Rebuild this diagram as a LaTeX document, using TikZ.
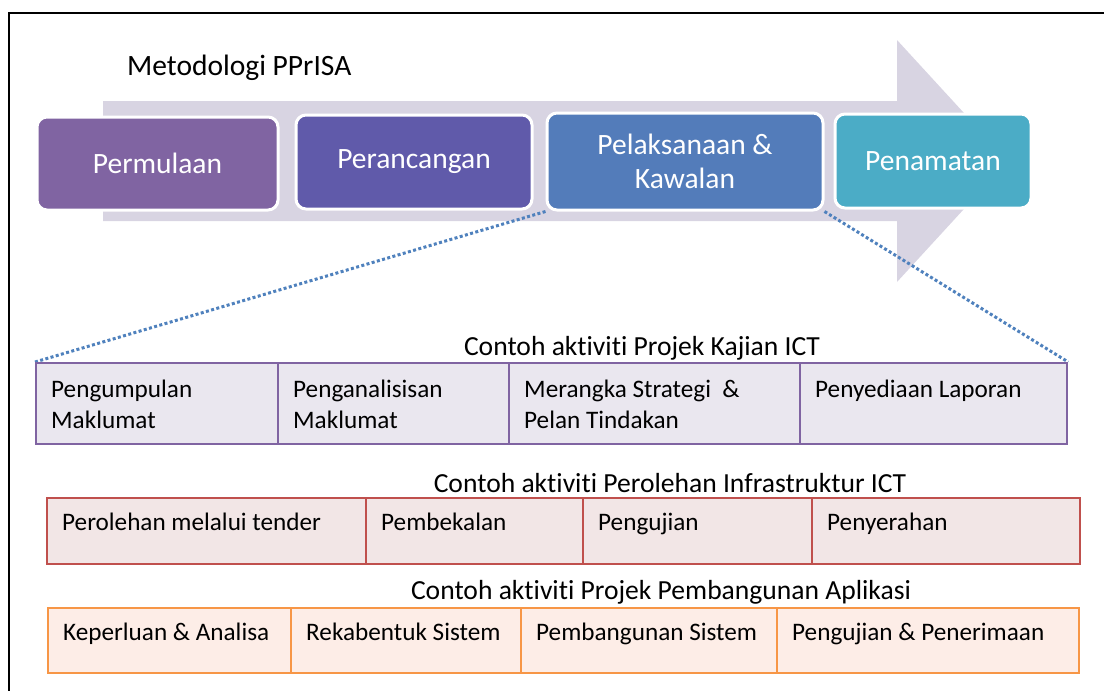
\documentclass[tikz,border=0pt]{standalone}
\usepackage{fontspec}
\setmainfont{Carlito}[Ligatures=NoCommon]
\definecolor{arrowc}{RGB}{216,212,226}
\definecolor{phaseA}{RGB}{128,100,162}
\definecolor{phaseB}{RGB}{96,90,170}
\definecolor{phaseC}{RGB}{83,124,186}
\definecolor{phaseD}{RGB}{75,172,198}
\definecolor{dotc}{RGB}{79,129,189}
\definecolor{tAline}{RGB}{128,100,162}
\definecolor{tAfill}{RGB}{234,231,239}
\definecolor{tBline}{RGB}{192,80,77}
\definecolor{tBfill}{RGB}{242,230,230}
\definecolor{tCline}{RGB}{247,150,70}
\definecolor{tCfill}{RGB}{253,237,231}
\pgfdeclarelayer{bg}
\pgfdeclarelayer{mid}
\pgfsetlayers{bg,mid,main}
\begin{document}
\begin{tikzpicture}[x=1pt,y=-1pt,
  phase/.style={rounded corners=10pt, draw=white, line width=3pt, text=white,
    font=\fontsize{29.5}{34}\selectfont, align=center, inner sep=0pt},
  heading/.style={inner sep=0pt, font=\fontsize{29.5}{34}\selectfont},
  tabtitle/.style={inner sep=0pt, font=\fontsize{27.6}{31}\selectfont},
  cell/.style={anchor=north west, line width=2.2pt, inner sep=0pt},
  cellA/.style={cell, draw=tAline, fill=tAfill, minimum height=81pt},
  cellB/.style={cell, draw=tBline, fill=tBfill, minimum height=66pt},
  cellC/.style={cell, draw=tCline, fill=tCfill, minimum height=65pt},
  ctext/.style={anchor=base west, inner sep=0pt, align=left,
    font=\fontsize{25.2}{31}\selectfont, xshift=16pt},
  ctextA/.style={ctext, yshift=-35pt},
  ctextAA/.style={ctext, yshift=-66pt},
  ctextB/.style={ctext, yshift=-33pt},
  dotline/.style={draw=dotc, line width=3pt, dash pattern=on 3pt off 2.4pt}
]
\useasboundingbox (0,0) rectangle (1104,691);
\begin{pgfonlayer}{bg}
\fill[arrowc] (103,101) -- (897,101) -- (897,40) -- (1008,161) -- (897,282)
  -- (897,221) -- (103,221) -- cycle;
\end{pgfonlayer}
\draw[line width=1.3pt] (1110,13) -- (9,13) -- (9,700);

\node[heading, anchor=west] (title) at (127,68) {Metodologi PPrISA};

\node[phase, fill=phaseA, minimum width=241pt, minimum height=93pt] (p1) at (157.5,163.5) {Permulaan};
\node[phase, fill=phaseB, minimum width=236pt, minimum height=94pt] (p2) at (414,162) {Perancangan};
\node[phase, fill=phaseC, minimum width=276pt, minimum height=97pt] (p3) at (685,161.5) {Pelaksanaan \&\\Kawalan};
\node[phase, fill=phaseD, minimum width=196pt, minimum height=94pt] (p4) at (933,161) {Penamatan};

% Table 1
\node[tabtitle] (tA) at (642,348) {Contoh aktiviti Projek Kajian ICT};
\node[cellA, minimum width=242pt, label={[ctextAA]north west:{Pengumpulan\\Maklumat}}] (a1) at (35,362) {};
\node[cellA, minimum width=231pt, label={[ctextAA]north west:{Penganalisisan\\Maklumat}}] (a2) at (277,362) {};
\node[cellA, minimum width=291pt, label={[ctextAA]north west:{Merangka Strategi~ \&\\Pelan Tindakan}}] (a3) at (508,362) {};
\node[cellA, minimum width=267pt, label={[ctextA]north west:{Penyediaan Laporan}}] (a4) at (799,362) {};

% Table 2
\node[tabtitle] (tB) at (670,483) {Contoh aktiviti Perolehan Infrastruktur ICT};
\node[cellB, minimum width=319pt, label={[ctextB]north west:{Perolehan melalui tender}}] (b1) at (46,497) {};
\node[cellB, minimum width=217pt, label={[ctextB]north west:{Pembekalan}}] (b2) at (365,497) {};
\node[cellB, minimum width=229pt, label={[ctextB]north west:{Pengujian}}] (b3) at (582,497) {};
\node[cellB, minimum width=268pt, label={[ctextB]north west:{Penyerahan}}] (b4) at (811,497) {};

% Table 3
\node[tabtitle] (tC) at (661,592) {Contoh aktiviti Projek Pembangunan Aplikasi};
\node[cellC, minimum width=243pt, label={[ctextB]north west:{Keperluan \& Analisa}}] (c1) at (47,607) {};
\node[cellC, minimum width=230pt, label={[ctextB]north west:{Rekabentuk Sistem}}] (c2) at (290,607) {};
\node[cellC, minimum width=256pt, label={[ctextB]north west:{Pembangunan Sistem}}] (c3) at (520,607) {};
\node[cellC, minimum width=302pt, label={[ctextB]north west:{Pengujian \& Penerimaan}}] (c4) at (776,607) {};

\begin{pgfonlayer}{mid}
\draw[dotline] (p3.south west) -- (a1.north west);
\draw[dotline] (p3.south east) -- (a4.north east);
\end{pgfonlayer}
\end{tikzpicture}
\end{document}
